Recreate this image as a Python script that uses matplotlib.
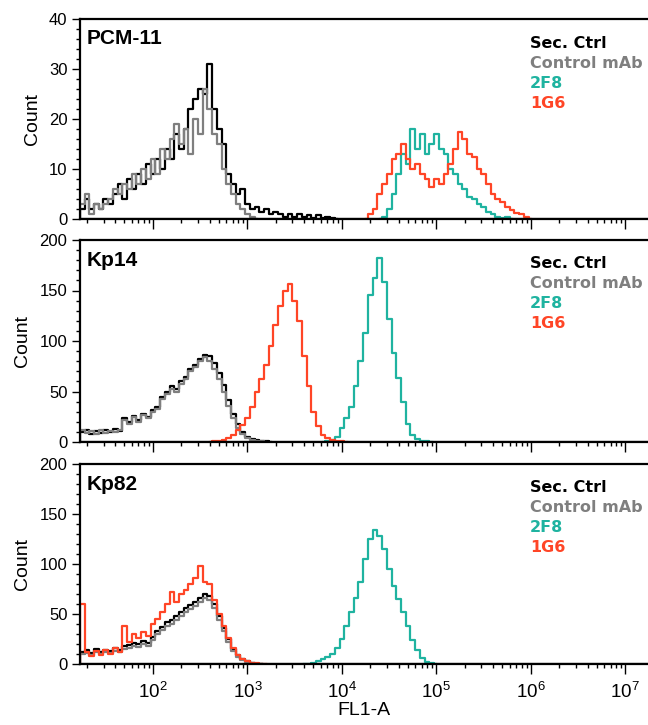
import numpy as np
import matplotlib
matplotlib.use("Agg")
import matplotlib.pyplot as plt
from matplotlib.ticker import FixedLocator, LogLocator, MultipleLocator, NullFormatter

plt.rcParams['font.family'] = ['Liberation Sans', 'DejaVu Sans']

step = 0.05

# PCM-11
pcm_black_start = 1.25
pcm_black = [2, 4, 2, 3, 2, 4, 3, 5, 7, 4, 8, 6, 9, 7, 11, 9, 12, 10, 14, 12, 17, 14, 18, 22,
             24, 26, 25, 31, 22, 18, 15, 9, 7, 5, 6, 3, 2, 2.5, 1.5, 2, 1, 1.5, 1, 0.5, 1, 0.5,
             1, 0.5, 0.8, 0.3, 0.8, 0.3, 0.5, 0.2]
pcm_gray_start = 1.25
pcm_gray = [3, 5, 1, 3, 2, 3, 4, 6, 5, 7, 6, 9, 7, 10, 8, 12, 9, 14, 12, 16, 19, 15, 18, 13,
            20, 17, 26, 22, 17, 15, 10, 7, 5, 3, 2, 1, 0.5]
pcm_teal_start = 4.45
pcm_teal = [0.5, 2, 5, 9, 13, 11, 18, 14, 17, 13, 15, 17, 14, 13, 10, 9, 7, 6, 4.5, 4, 3,
            2.5, 1.5, 1, 0.5, 0.3, 0.5]
pcm_red_start = 4.30
pcm_red = [1, 2, 5, 7, 9, 12, 13, 15, 12, 10, 11, 9, 8, 6.5, 8, 7, 9, 11, 14, 17.5, 16, 13,
           12.5, 10, 9, 7, 5, 4, 3.5, 2.5, 1.8, 1.2, 1, 0.5]

# Kp14
kp14_black_start = 1.25
kp14_black = [10, 12, 8, 11, 9, 12, 10, 13, 11, 24, 20, 26, 22, 28, 25, 32, 35, 45, 50, 55,
              52, 60, 64, 72, 76, 82, 86, 85, 78, 68, 56, 42, 28, 18, 10, 5, 3, 1.5, 1, 0.5]
kp14_gray_start = 1.25
kp14_gray = [12, 9, 11, 8, 12, 9, 11, 10, 12, 22, 18, 25, 20, 27, 24, 30, 33, 43, 48, 52,
             50, 57, 62, 70, 74, 80, 84, 80, 72, 62, 50, 36, 24, 14, 8, 4, 2, 1, 0.5]
kp14_teal_start = 3.85
kp14_teal = [0.5, 2, 5, 14, 24, 35, 55, 80, 108, 146, 162, 182, 158, 122, 88, 63, 40, 18,
             7, 3, 1, 0.5]
kp14_red_start = 2.65
kp14_red = [0.5, 1, 2, 4, 7, 12, 17, 24, 35, 50, 62, 76, 95, 116, 135, 150, 156, 140, 120,
            85, 55, 30, 16, 7, 4, 2, 1, 0.5]

# Kp82
kp82_black_start = 1.25
kp82_black = [12, 14, 11, 15, 12, 14, 13, 16, 14, 18, 19, 21, 20, 23, 21, 27, 33, 37, 42,
              44, 48, 52, 56, 59, 62, 66, 70, 68, 60, 48, 36, 25, 15, 9, 5, 3, 1.5, 0.5]
kp82_gray_start = 1.25
kp82_gray = [10, 11, 9, 12, 10, 12, 11, 13, 12, 15, 16, 18, 17, 20, 18, 24, 30, 34, 38, 40,
             44, 48, 52, 55, 58, 62, 66, 64, 56, 44, 33, 22, 13, 7, 4, 2, 1, 0.5]
kp82_teal_start = 3.65
kp82_teal = [0.5, 1, 3, 5, 7, 10, 16, 25, 38, 52, 66, 82, 105, 125, 134, 128, 115, 95, 78,
             65, 52, 38, 24, 14, 6, 2, 1]
kp82_red_start = 1.25
kp82_red = [60, 12, 8, 13, 9, 14, 10, 16, 12, 38, 22, 30, 26, 32, 28, 40, 45, 52, 60, 72, 62,
            70, 74, 80, 86, 98, 82, 80, 64, 50, 38, 26, 16, 9, 5, 3, 1.5, 1, 0.5]

panel_names = ['PCM-11', 'Kp14', 'Kp82']
panel_ymax = [40, 200, 200]
panel_ymajor = [10, 50, 50]
panel_yminor = [2, 10, 10]
decades = [1e2, 1e3, 1e4, 1e5, 1e6, 1e7]
series_names = ['Sec. Ctrl', 'Control mAb', '2F8', '1G6']
colors = ['#000000', '#7f7f7f', '#1fb3a0', '#ff4526']

panels = [
    [(pcm_black_start, pcm_black), (pcm_gray_start, pcm_gray),
     (pcm_teal_start, pcm_teal), (pcm_red_start, pcm_red)],
    [(kp14_black_start, kp14_black), (kp14_gray_start, kp14_gray),
     (kp14_teal_start, kp14_teal), (kp14_red_start, kp14_red)],
    [(kp82_black_start, kp82_black), (kp82_gray_start, kp82_gray),
     (kp82_teal_start, kp82_teal), (kp82_red_start, kp82_red)],
]

fig = plt.figure(figsize=(6.48, 7.25), dpi=100)
W, H = 648, 725
boxes = [(19, 219), (240, 442), (464, 664)]
xmin, xmax = 10 ** 1.228, 10 ** 7.24

for i, (top, bot) in enumerate(boxes):
    ax = fig.add_axes([80 / W, 1 - bot / H, 1 - 80 / W, (bot - top) / H])
    for (start, counts), c in zip(panels[i], colors):
        lg = start + step * np.arange(len(counts))
        lg = np.concatenate([[lg[0] - step], lg, [lg[-1] + step]])
        y = np.concatenate([[0], counts, [0]])
        ax.step(10 ** lg, y, where='mid', color=c, lw=1.6)
    ax.axhline(0, color='black', lw=1.6, zorder=5)

    ax.set_xscale('log')
    ax.set_xlim(xmin, xmax)
    ax.set_ylim(0, panel_ymax[i])
    ax.yaxis.set_major_locator(MultipleLocator(panel_ymajor[i]))
    ax.yaxis.set_minor_locator(MultipleLocator(panel_yminor[i]))
    ax.xaxis.set_major_locator(FixedLocator(decades))
    ax.xaxis.set_minor_locator(LogLocator(base=10, subs=np.arange(2, 10), numticks=12))
    ax.xaxis.set_minor_formatter(NullFormatter())
    ax.tick_params(axis='both', which='major', direction='out', length=6, width=1,
                   labelsize=12, pad=3)
    ax.tick_params(axis='both', which='minor', direction='out', length=3, width=1)
    ax.tick_params(axis='x', which='major', length=7, labelsize=13.5, pad=6)
    if i < 2:
        ax.tick_params(axis='x', labelbottom=False)
    else:
        ax.set_xticklabels([r'$\mathdefault{10^{%d}}$' % int(np.log10(d)) for d in decades])
        ax.set_xlabel('FL1-A', fontsize=14, labelpad=0)
    ax.set_ylabel('Count', fontsize=14, labelpad=6)

    for s in ['left', 'bottom', 'top']:
        ax.spines[s].set_linewidth(1.6)
    ax.spines['right'].set_visible(False)

    ax.text(0.012, 0.9, panel_names[i], transform=ax.transAxes,
            fontsize=15, fontweight='bold', va='center', ha='left')
    for k, (name, c) in enumerate(zip(series_names, colors)):
        ax.text((530 - 80) / (W - 80), 1 - (24 + 20 * k) / (bot - top), name,
                transform=ax.transAxes, color=c, fontsize=11.5, fontweight='bold',
                family='DejaVu Sans', va='center', ha='left')

fig.savefig('out.png', dpi=100)
